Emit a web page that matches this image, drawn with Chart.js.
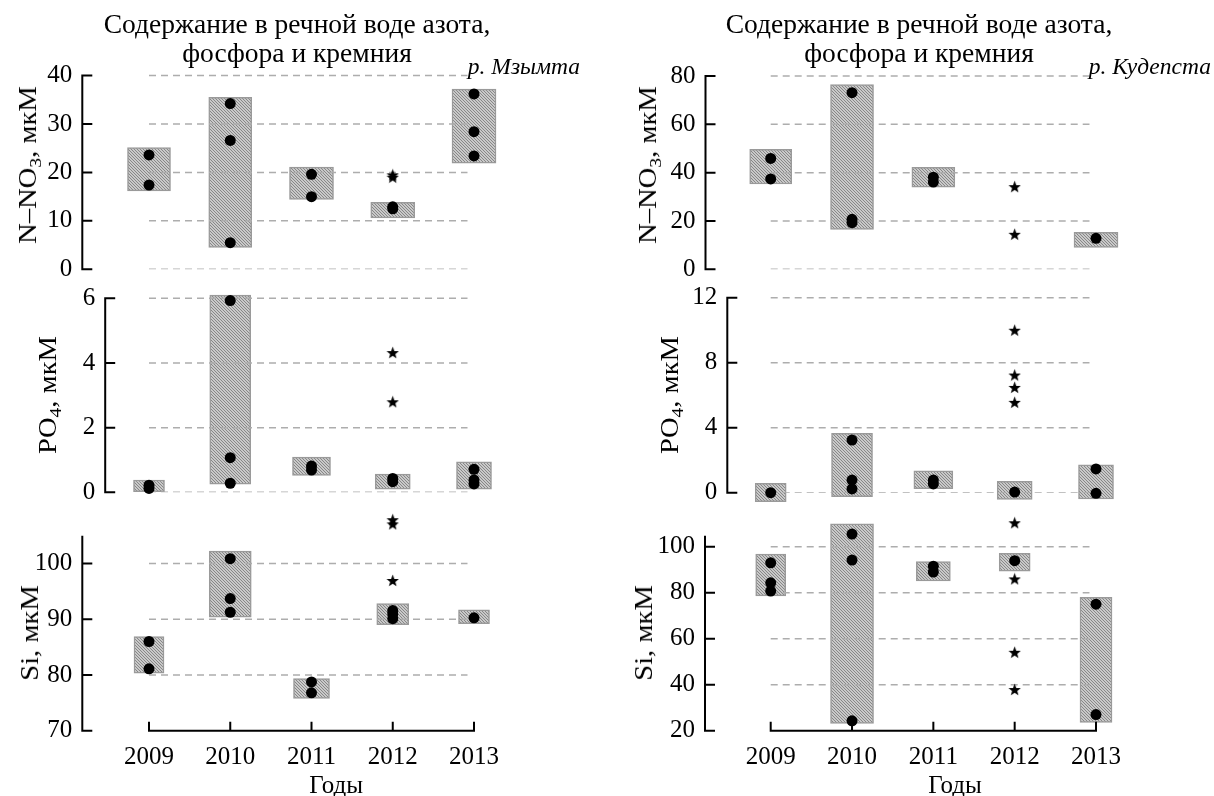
<!DOCTYPE html>
<html>
<head>
<meta charset="utf-8">
<script src="https://cdn.jsdelivr.net/npm/chart.js@4.4.1/dist/chart.umd.min.js"></script>
<style>
  html, body { margin: 0; padding: 0; background: #fff; }
  #wrap { position: relative; width: 1214px; height: 796px; overflow: hidden;
          font-family: 'Liberation Serif', 'Times New Roman', serif; color: #000; }
  #wrap canvas { position: absolute; left: 0; top: 0; }
  .ttl { position: absolute; width: 520px; text-align: center; font-size: 27.5px; line-height: 29px; white-space: nowrap; }
  .river { position: absolute; font-style: italic; font-size: 23.5px; line-height: 23.5px; white-space: nowrap; }
  .ylab { position: absolute; width: 0; height: 0; }
  .ylab span { position: absolute; left: 0; top: 0; white-space: nowrap; font-size: 26px; line-height: 26px;
               transform: translate(-50%, -50%) rotate(-90deg) scaleX(1.1); }
  .ylab sub { font-size: 0.68em; vertical-align: -0.3em; line-height: 0; }
</style>
</head>
<body>
<div id="wrap">
  <canvas id="c0" width="1214" height="796"></canvas>
  <canvas id="c1" width="1214" height="796"></canvas>
  <canvas id="c2" width="1214" height="796"></canvas>
  <canvas id="c3" width="1214" height="796"></canvas>
  <canvas id="c4" width="1214" height="796"></canvas>
  <canvas id="c5" width="1214" height="796"></canvas>

  <div class="ttl" style="left:37px; top:9px;">Содержание в речной воде азота,<br>фосфора и кремния</div>
  <div class="ttl" style="left:659px; top:9px;">Содержание в речной воде азота,<br>фосфора и кремния</div>
  <div class="river" style="right:634px; top:55px;">р. Мзымта</div>
  <div class="river" style="right:3px; top:55px;">р. Кудепста</div>

  <div class="ylab" style="left:28px; top:165px;"><span>N–NO<sub>3</sub>, мкМ</span></div>
  <div class="ylab" style="left:48px; top:395px;"><span>PO<sub>4</sub>, мкМ</span></div>
  <div class="ylab" style="left:30px; top:633px;"><span>Si, мкМ</span></div>
  <div class="ylab" style="left:648px; top:165px;"><span>N–NO<sub>3</sub>, мкМ</span></div>
  <div class="ylab" style="left:670px; top:395px;"><span>PO<sub>4</sub>, мкМ</span></div>
  <div class="ylab" style="left:644px; top:633px;"><span>Si, мкМ</span></div>
</div>

<script>
// ---- data ----
const years = [2009, 2010, 2011, 2012, 2013];

// р. Мзымта
const mzNO3Box   = [[16.2, 25.1], [4.5, 35.5], [14.4, 21.1], [10.6, 13.8], [21.9, 37.2]];
const mzNO3Dots  = [[23.6, 17.4], [34.2, 26.6, 5.5], [19.6, 15.0], [12.5, 12.9], [36.2, 28.4, 23.4]];
const mzNO3Stars = [[], [], [], [19.0, 19.5], []];
const mzNO3Ticks = [0, 10, 20, 30, 40];
const mzNO3Grid  = [0, 10, 20, 30, 40];

const mzPO4Box   = [[0.02, 0.38], [0.25, 6.1], [0.52, 1.09], [0.1, 0.56], [0.1, 0.94]];
const mzPO4Dots  = [[0.22, 0.12], [5.93, 1.07, 0.28], [0.81, 0.69], [0.43, 0.33], [0.71, 0.38, 0.26]];
const mzPO4Stars = [[], [], [], [4.32, 2.8], []];
const mzPO4Ticks = [0, 2, 4, 6];
const mzPO4Grid  = [0, 2, 4, 6];

const mzSiBox   = [[80.3, 86.9], [90.35, 102.2], [75.8, 79.35], [89.0, 92.8], [89.2, 91.7]];
const mzSiDots  = [[86.0, 81.1], [100.85, 93.7, 91.25], [78.75, 76.8], [91.55, 90.95, 90.1], [90.25]];
const mzSiStars = [[], [], [], [96.95, 107.85, 107.1], []];
const mzSiTicks = [70, 80, 90, 100];
const mzSiGrid  = [80, 90, 100];

// р. Кудепста
const kdNO3Box   = [[35.3, 49.7], [16.5, 76.5], [34.0, 42.2], null, [9.1, 15.3]];
const kdNO3Dots  = [[45.9, 37.4], [73.1, 20.7, 19.3], [38.1, 36.1], [], [12.8]];
const kdNO3Stars = [[], [], [], [34.2, 14.5], []];
const kdNO3Ticks = [0, 20, 40, 60, 80];
const kdNO3Grid  = [0, 20, 40, 60, 80];

const kdPO4Box   = [[-0.55, 0.58], [-0.25, 3.65], [0.25, 1.35], [-0.41, 0.7], [-0.39, 1.72]];
const kdPO4Dots  = [[0.0], [3.24, 0.78, 0.23], [0.78, 0.54], [0.04], [1.46, -0.04]];
const kdPO4Stars = [[], [], [], [10.0, 7.24, 6.48, 5.56], []];
const kdPO4Ticks = [0, 4, 8, 12];
const kdPO4Grid  = [0, 4, 8, 12];

const kdSiBox   = [[78.6, 96.8], [23.2, 109.9], [85.1, 93.5], [89.4, 97.1], [23.6, 78.0]];
const kdSiDots  = [[93.0, 84.3, 80.7], [105.5, 94.2, 24.3], [91.5, 89.0], [93.9], [75.0, 27.0]];
const kdSiStars = [[], [], [], [110.4, 86.0, 54.1, 37.9], []];
const kdSiTicks = [20, 40, 60, 80, 100];
const kdSiGrid  = [40, 60, 80, 100];

// ---- layout ----
const W = 1214, H = 796;
const LEFT  = { x09: 149,   x13: 474,  right: 590 };
const RIGHT = { x09: 770.7, x13: 1096, right: 1205 };
const GRID_TRIM = 0.08;  // dashed lines stop just short of the last year
const HEADROOM = 30;     // px of plot area above the axis top, so outliers are not dropped

// top/bottom: pixel rows of axisTop and yMin
const plots = [
  { col: LEFT,  axisX: 82.3,  top: 75.5,  bottom: 269.3, yMin: 0,  axisTop: 40,     ticks: mzNO3Ticks, grid: mzNO3Grid, box: mzNO3Box, dots: mzNO3Dots, stars: mzNO3Stars, widths: [43, 43, 44, 44, 44], xAxis: false },
  { col: LEFT,  axisX: 105.2, top: 298.3, bottom: 492.3, yMin: 0,  axisTop: 6,      ticks: mzPO4Ticks, grid: mzPO4Grid, box: mzPO4Box, dots: mzPO4Dots, stars: mzPO4Stars, widths: [31, 41, 38, 35, 35], xAxis: false },
  { col: LEFT,  axisX: 82.3,  top: 536.7, bottom: 730.7, yMin: 70, axisTop: 104.8,  ticks: mzSiTicks,  grid: mzSiGrid,  box: mzSiBox,  dots: mzSiDots,  stars: mzSiStars,  widths: [30, 42, 36, 32, 31], xAxis: true },
  { col: RIGHT, axisX: 705.5, top: 76,    bottom: 269.3, yMin: 0,  axisTop: 80,     ticks: kdNO3Ticks, grid: kdNO3Grid, box: kdNO3Box, dots: kdNO3Dots, stars: kdNO3Stars, widths: [42, 43, 43, 0, 44],  xAxis: false },
  { col: RIGHT, axisX: 727.3, top: 297.7, bottom: 492.7, yMin: 0,  axisTop: 12,     ticks: kdPO4Ticks, grid: kdPO4Grid, box: kdPO4Box, dots: kdPO4Dots, stars: kdPO4Stars, widths: [31, 41, 39, 35, 35], xAxis: false },
  { col: RIGHT, axisX: 705,   top: 536.7, bottom: 730.7, yMin: 20, axisTop: 104.35, ticks: kdSiTicks,  grid: kdSiGrid,  box: kdSiBox,  dots: kdSiDots,  stars: kdSiStars,  widths: [30, 43, 34, 31, 32], xAxis: true },
];

Chart.defaults.font.family = "'Liberation Serif', 'Times New Roman', serif";
Chart.defaults.color = '#000';

function makeHatch() {
  const t = document.createElement('canvas');
  t.width = t.height = 3;
  const g = t.getContext('2d');
  g.fillStyle = '#c9c9c9'; g.fillRect(0, 0, 3, 3);
  g.strokeStyle = '#7f7f7f'; g.lineWidth = 0.9;
  g.beginPath();
  g.moveTo(-1, -1); g.lineTo(4, 4);
  g.moveTo(-1, 2);  g.lineTo(1, 4);
  g.moveTo(2, -1);  g.lineTo(4, 1);
  g.stroke();
  return g.createPattern(t, 'repeat');
}

function makeStar(size) {
  const c = document.createElement('canvas');
  c.width = c.height = size;
  const g = c.getContext('2d');
  const r = size / 2, ri = r * 0.42;
  g.beginPath();
  for (let i = 0; i < 10; i++) {
    const a = -Math.PI / 2 + i * Math.PI / 5;
    const rr = i % 2 ? ri : r;
    g.lineTo(r + rr * Math.cos(a), r + 0.6 + rr * Math.sin(a));
  }
  g.closePath();
  g.fillStyle = '#000'; g.fill();
  return c;
}

const HATCH = makeHatch();
const STAR = makeStar(13);

// y axis line (only up to axisTop), inward tick marks and the short year axis
const axisDeco = {
  id: 'axisDeco',
  afterDraw(chart, args, opts) {
    const { ctx, chartArea: a, scales: { x, y } } = chart;
    const yb = y.getPixelForValue(opts.yMin), yt = y.getPixelForValue(opts.axisTop);
    ctx.save();
    ctx.strokeStyle = '#000'; ctx.lineWidth = 2;
    ctx.beginPath();
    ctx.moveTo(a.left, yb + 1); ctx.lineTo(a.left, yt - 1);
    y.ticks.forEach(t => {
      const py = y.getPixelForValue(t.value);
      ctx.moveTo(a.left, py); ctx.lineTo(a.left + 10, py);
    });
    if (opts.xAxis) {
      const x0 = x.getPixelForValue(years[0]);
      const x1 = x.getPixelForValue(years[years.length - 1]);
      ctx.moveTo(x0 - 1, a.bottom); ctx.lineTo(x1 + 1, a.bottom);
      years.forEach(v => {
        const px = x.getPixelForValue(v);
        ctx.moveTo(px, a.bottom); ctx.lineTo(px, a.bottom - 9);
      });
    }
    ctx.stroke();
    ctx.restore();
  },
};

function buildDatasets(p) {
  const ds = [];
  years.forEach((yr, i) => {
    if (!p.box[i]) return;
    ds.push({
      type: 'bar', data: [{ x: yr, y: p.box[i] }],
      backgroundColor: HATCH, borderColor: '#9a9a9a', borderWidth: 1.5, borderSkipped: false,
      grouped: false, maxBarThickness: p.widths[i], barPercentage: 1, categoryPercentage: 1,
      clip: false, order: 2,
    });
  });
  const gEnd = years[years.length - 1] - GRID_TRIM;
  p.grid.forEach(v => ds.push({
    type: 'line', data: [{ x: years[0], y: v }, { x: gEnd, y: v }],
    borderColor: '#adadad', borderWidth: 1.5, borderDash: [7, 5], pointRadius: 0, order: 1,
  }));
  ds.push({
    type: 'scatter', data: years.flatMap((yr, i) => p.dots[i].map(v => ({ x: yr, y: v }))),
    pointStyle: 'circle', pointRadius: 5.5, backgroundColor: '#000', borderWidth: 0, clip: false, order: 0,
  });
  ds.push({
    type: 'scatter', data: years.flatMap((yr, i) => p.stars[i].map(v => ({ x: yr, y: v }))),
    pointStyle: STAR, pointRadius: 6, clip: false, order: 0,
  });
  return ds;
}

plots.forEach((p, k) => {
  const c = p.col;
  const perYear = (c.x13 - c.x09) / (years[years.length - 1] - years[0]);
  const xMin = years[0] - (c.x09 - p.axisX) / perYear;
  const xMax = years[years.length - 1] + (c.right - c.x13) / perYear;
  const perUnit = (p.bottom - p.top) / (p.axisTop - p.yMin);
  const yMax = p.axisTop + HEADROOM / perUnit;
  const areaTop = p.top - HEADROOM;

  new Chart(document.getElementById('c' + k), {
    type: 'bar',
    data: { datasets: buildDatasets(p) },
    options: {
      responsive: false, animation: false, events: [], devicePixelRatio: 1,
      layout: { padding: { left: 0, top: areaTop, right: W - c.right, bottom: p.xAxis ? 0 : H - p.bottom } },
      plugins: {
        legend: { display: false }, tooltip: { enabled: false },
        axisDeco: { xAxis: p.xAxis, yMin: p.yMin, axisTop: p.axisTop },
      },
      scales: {
        x: {
          type: 'linear', min: xMin, max: xMax, offset: false, display: p.xAxis,
          grid: { display: false, drawTicks: false }, border: { display: false },
          afterBuildTicks: s => { s.ticks = years.map(v => ({ value: v })); },
          afterFit: s => { if (p.xAxis) s.height = H - p.bottom; },
          ticks: { callback: v => String(v), font: { size: 25 }, padding: 12, maxRotation: 0, autoSkip: false },
          title: { display: true, text: 'Годы', font: { size: 25, lineHeight: 1 }, padding: { top: 0, bottom: -3 } },
        },
        y: {
          type: 'linear', min: p.yMin, max: yMax,
          grid: { display: false, drawTicks: false }, border: { display: false },
          afterBuildTicks: s => { s.ticks = p.ticks.map(v => ({ value: v })); },
          afterFit: s => { s.width = p.axisX; },
          ticks: { callback: v => String(v), font: { size: 25 }, padding: 10 },
        },
      },
    },
    plugins: [axisDeco],
  });
});
</script>
</body>
</html>
